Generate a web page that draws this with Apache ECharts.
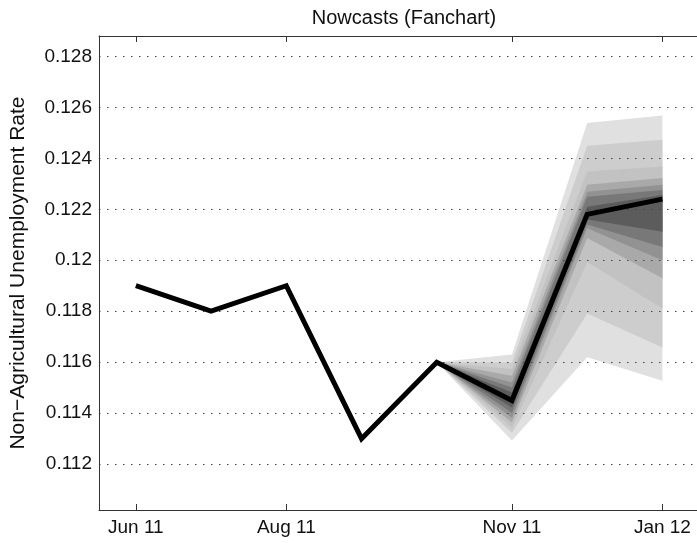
<!DOCTYPE html>
<html>
<head>
<meta charset="utf-8">
<script src="https://cdn.jsdelivr.net/npm/echarts@6/dist/echarts.min.js"></script>
<style>
  html, body { margin: 0; padding: 0; background: #fff; overflow: hidden; }
  #chart { width: 697px; height: 543px; }
</style>
</head>
<body>
<div id="chart"></div>
<script>
// Monthly axis: index 0 = Jun 11 ... 7 = Jan 12
const monthLabels = ['Jun 11', 'Jul 11', 'Aug 11', 'Sep 11', 'Oct 11', 'Nov 11', 'Dec 11', 'Jan 12'];
const tickMonths = [0, 2, 5, 7];

// Nowcast path of the non-agricultural unemployment rate
const rate = [0.119, 0.118, 0.119, 0.113, 0.116, 0.1145, 0.1218, 0.1224];

// Fan opens at Oct 11 (index 4) and spreads over the next three months
const fanStart = 4;
const fanMonths = [5, 6, 7];

// Quantile band edges, outermost band first
const fanUpperNov = [0.11630, 0.11599, 0.11573, 0.11547, 0.11520, 0.11501, 0.11481];
const fanLowerNov = [0.11293, 0.11323, 0.11343, 0.11363, 0.11382, 0.11402, 0.11422];
const fanUpperDec = [0.12539, 0.12449, 0.12348, 0.12296, 0.12269, 0.12249, 0.12210];
const fanLowerDec = [0.11619, 0.11791, 0.11993, 0.12087, 0.12126, 0.12140, 0.12160];
const fanUpperJan = [0.12568, 0.12473, 0.12368, 0.12323, 0.12296, 0.12276, 0.12256];
const fanLowerJan = [0.11527, 0.11658, 0.11811, 0.11929, 0.12000, 0.12052, 0.12112];

// Band shades, lightest (outer) to darkest (inner)
const bandColors = ['#e0e0e0', '#cdcdcd', '#c2c2c2', '#a9a9a9', '#929292', '#787878', '#5c5c5c'];

const yTicks = [0.112, 0.114, 0.116, 0.118, 0.12, 0.122, 0.124, 0.126, 0.128];

const FONT = 'Liberation Sans, Arial, Helvetica, sans-serif';
const uppers = [fanUpperNov, fanUpperDec, fanUpperJan];
const lowers = [fanLowerNov, fanLowerDec, fanLowerJan];

// One closed polygon per band: origin, upper edge forward, lower edge back
function bandPolygon(k, api) {
  const pts = [api.coord([fanStart, rate[fanStart]])];
  fanMonths.forEach((m, j) => pts.push(api.coord([m, uppers[j][k]])));
  for (let j = fanMonths.length - 1; j >= 0; j--) {
    pts.push(api.coord([fanMonths[j], lowers[j][k]]));
  }
  return pts;
}

const fanSeries = {
  type: 'custom',
  silent: true,
  z: 2,
  data: bandColors.map((c, k) => [k]),
  encode: { x: -1, y: -1 },
  renderItem: function (params, api) {
    const k = params.dataIndex;
    return {
      type: 'polygon',
      shape: { points: bandPolygon(k, api) },
      style: { fill: bandColors[k], stroke: null }
    };
  },
  clip: true
};

const pathSeries = {
  type: 'line',
  data: rate.map((v, i) => [i, v]),
  showSymbol: false,
  lineStyle: { color: '#000', width: 5, join: 'miter' },
  z: 5
};

const chart = echarts.init(document.getElementById('chart'), null, { renderer: 'canvas' });
chart.setOption({
  animation: false,
  backgroundColor: '#fff',
  title: {
    text: 'Nowcasts (Fanchart)',
    left: 399, top: 3, textAlign: 'center',
    textStyle: { fontFamily: FONT, fontSize: 20, fontWeight: 'normal', color: '#111' }
  },
  grid: { left: 97, right: 0, top: 36, bottom: 33, containLabel: false },
  xAxis: [{
    type: 'value', min: -0.49, max: 7.46, position: 'bottom',
    axisLine: { show: true, onZero: false, lineStyle: { color: '#333', width: 1 } },
    axisTick: { show: true, inside: true, length: 6, customValues: tickMonths, lineStyle: { color: '#333' } },
    axisLabel: {
      customValues: tickMonths, margin: 8,
      formatter: v => monthLabels[Math.round(v)],
      fontFamily: FONT, fontSize: 19, color: '#111'
    },
    splitLine: { show: false }
  }, {
    type: 'value', min: -0.49, max: 7.46, position: 'top',
    axisLine: { show: true, onZero: false, lineStyle: { color: '#333', width: 1 } },
    axisTick: { show: true, inside: true, length: 6, customValues: tickMonths, lineStyle: { color: '#333' } },
    axisLabel: { show: false },
    splitLine: { show: false }
  }],
  yAxis: {
    type: 'value', min: 0.1102, max: 0.1288, z: 3,
    name: 'Non\u2212Agricultural Unemployment Rate',
    nameLocation: 'middle', nameGap: 70, nameRotate: 90,
    nameTextStyle: { fontFamily: FONT, fontSize: 21, color: '#111' },
    axisLine: { show: true, onZero: false, lineStyle: { color: '#333', width: 1 } },
    axisTick: { show: false, customValues: yTicks },
    axisLabel: {
      customValues: yTicks, margin: 7,
      formatter: v => String(+v.toFixed(3)),
      fontFamily: FONT, fontSize: 19, color: '#111'
    },
    splitLine: { show: true, lineStyle: { color: '#444', width: 1, type: [1.5, 6.5] } }
  },
  series: [fanSeries, pathSeries]
});
</script>
</body>
</html>
